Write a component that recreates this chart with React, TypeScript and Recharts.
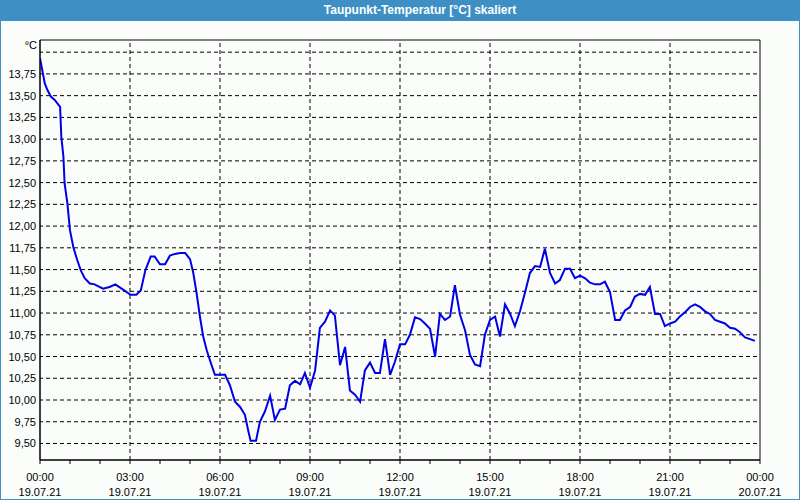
import React from "react";
import { LineChart, Line, XAxis, YAxis, ReferenceLine, ReferenceArea } from "recharts";

const hours = [
  0.0, 0.16, 0.24, 0.36, 0.49, 0.67, 0.71, 0.78, 0.82, 0.91, 1.0, 1.11, 1.24, 1.36, 1.49, 1.66, 1.82, 2.1, 2.32, 2.51,
  2.77, 3.02, 3.21, 3.36, 3.51, 3.69, 3.82, 4.0, 4.17, 4.33, 4.5, 4.67, 4.84, 5.0, 5.11, 5.22, 5.33, 5.44, 5.56, 5.72,
  5.83, 6.17, 6.33, 6.5, 6.67, 6.83, 6.94, 7.02, 7.2, 7.33, 7.5, 7.67, 7.83, 8.0, 8.17, 8.33, 8.5, 8.67, 8.83, 9.0,
  9.17, 9.33, 9.5, 9.67, 9.83, 10.0, 10.17, 10.33, 10.5, 10.67, 10.83, 11.0, 11.17, 11.33, 11.5, 11.67, 11.83, 12.0,
  12.17, 12.33, 12.5, 12.67, 12.83, 13.0, 13.17, 13.33, 13.5, 13.67, 13.83, 14.0, 14.17, 14.33, 14.5, 14.67, 14.83,
  15.0, 15.17, 15.33, 15.5, 15.67, 15.83, 16.0, 16.17, 16.33, 16.5, 16.67, 16.83, 17.0, 17.17, 17.33, 17.5, 17.67,
  17.83, 18.0, 18.17, 18.33, 18.5, 18.67, 18.83, 19.0, 19.17, 19.33, 19.5, 19.67, 19.83, 20.0, 20.17, 20.33, 20.5,
  20.67, 20.83, 21.0, 21.17, 21.33, 21.5, 21.67, 21.83, 22.0, 22.17, 22.33, 22.5, 22.67, 22.83, 23.0, 23.17, 23.33,
  23.5, 23.67, 23.83,
];

const dewPoint = [
  13.93, 13.64, 13.57, 13.49, 13.45, 13.37, 13.03, 12.8, 12.49, 12.27, 11.95, 11.76, 11.61, 11.49, 11.4, 11.34, 11.33,
  11.28, 11.3, 11.33, 11.27, 11.21, 11.21, 11.26, 11.49, 11.65, 11.65, 11.56, 11.56, 11.66, 11.68, 11.69, 11.69, 11.62,
  11.46, 11.23, 10.96, 10.73, 10.57, 10.4, 10.29, 10.29, 10.17, 9.98, 9.92, 9.83, 9.65, 9.53, 9.53, 9.75, 9.87, 10.05,
  9.77, 9.89, 9.9, 10.17, 10.22, 10.18, 10.31, 10.14, 10.34, 10.83, 10.9, 11.03, 10.97, 10.4, 10.61, 10.11, 10.06, 9.98,
  10.34, 10.43, 10.31, 10.31, 10.7, 10.29, 10.44, 10.64, 10.64, 10.75, 10.95, 10.93, 10.88, 10.82, 10.5, 10.99, 10.92,
  10.96, 11.32, 10.98, 10.8, 10.52, 10.41, 10.39, 10.75, 10.92, 10.96, 10.73, 11.1, 10.99, 10.85, 11.02, 11.24, 11.46,
  11.54, 11.53, 11.74, 11.46, 11.34, 11.38, 11.51, 11.51, 11.4, 11.43, 11.4, 11.35, 11.33, 11.33, 11.36, 11.24, 10.92,
  10.92, 11.03, 11.07, 11.19, 11.22, 11.21, 11.3, 10.99, 10.99, 10.85, 10.88, 10.9, 10.96, 11.01, 11.07, 11.1, 11.07,
  11.02, 10.99, 10.92, 10.9, 10.88, 10.83, 10.82, 10.78, 10.72, 10.7, 10.68,
];

const yTicks = [9.5, 9.75, 10.0, 10.25, 10.5, 10.75, 11.0, 11.25, 11.5, 11.75, 12.0, 12.25, 12.5, 12.75, 13.0, 13.25, 13.5, 13.75, 14.0];
const xTicks = [0, 1, 2, 3, 4, 5, 6, 7, 8, 9, 10, 11, 12, 13, 14, 15, 16, 17, 18, 19, 20, 21, 22, 23, 24];
const majorX = [0, 3, 6, 9, 12, 15, 18, 21, 24];
const timeLabels = ["00:00", "03:00", "06:00", "09:00", "12:00", "15:00", "18:00", "21:00", "00:00"];
const dateLabels = ["19.07.21", "19.07.21", "19.07.21", "19.07.21", "19.07.21", "19.07.21", "19.07.21", "19.07.21", "20.07.21"];

const Y_MIN = 9.31;
const Y_MAX = 14.14;

const data = hours.map((h, i) => ({ h, v: dewPoint[i] }));

const FONT = "'Liberation Sans', Arial, sans-serif";
const BLUE = "#3d8fc4";

const XTick = (props: any) => {
  const { x, y, payload } = props;
  const idx = majorX.indexOf(payload.value);
  if (idx < 0) return null;
  return (
    <g>
      <text x={x} y={y + 15} textAnchor="middle" fontSize={11} fontFamily={FONT} fill="#000">
        {timeLabels[idx]}
      </text>
      <text x={x} y={y + 30} textAnchor="middle" fontSize={11} fontFamily={FONT} fill="#000">
        {dateLabels[idx]}
      </text>
    </g>
  );
};

const YTick = (props: any) => {
  const { x, y, payload } = props;
  if (payload.value >= 14) return null;
  return (
    <text x={x} y={y + 4} textAnchor="end" fontSize={11} fontFamily={FONT} fill="#000">
      {payload.value.toFixed(2).replace(".", ",")}
    </text>
  );
};

export default function App() {
  return (
    <div
      style={{
        position: "absolute",
        left: 0,
        top: 0,
        width: 800,
        height: 500,
        background: "#fbfdfb",
        boxSizing: "border-box",
        overflow: "hidden",
      }}
    >
      <div style={{ position: "absolute", left: 0, top: 0 }}>
        <LineChart width={800} height={500} data={data} margin={{ top: 40, right: 40, bottom: 0, left: 0 }}>
          {yTicks.map((t) => (
            <ReferenceLine key={"y" + t} y={t} stroke="#000" strokeDasharray="4 3" strokeDashoffset={1} />
          ))}
          {majorX.slice(1, -1).map((t) => (
            <ReferenceLine key={"x" + t} x={t} stroke="#000" strokeDasharray="4 3" />
          ))}
          <ReferenceArea x1={0} x2={24} y1={Y_MIN} y2={Y_MAX} fill="none" fillOpacity={0} stroke="#000" strokeWidth={1} ifOverflow="visible" />
          <XAxis
            dataKey="h"
            type="number"
            domain={[0, 24]}
            ticks={xTicks}
            interval={0}
            height={40}
            tickSize={4}
            tickLine={{ stroke: "#000" }}
            axisLine={{ stroke: "#000" }}
            tick={<XTick />}
            allowDataOverflow
          />
          <YAxis
            type="number"
            domain={[Y_MIN, Y_MAX]}
            ticks={yTicks}
            interval={0}
            width={40}
            tickSize={0}
            tickMargin={4}
            tickLine={false}
            axisLine={{ stroke: "#000" }}
            tick={<YTick />}
            allowDataOverflow
          />
          <Line dataKey="v" type="linear" stroke="#0000e6" strokeWidth={2} dot={false} isAnimationActive={false} />
        </LineChart>
      </div>
      <div
        style={{
          position: "absolute",
          left: 0,
          top: 0,
          width: 800,
          height: 21,
          background: BLUE,
          color: "#fff",
          fontFamily: FONT,
          fontWeight: "bold",
          fontSize: 12,
          lineHeight: "21px",
          textAlign: "center",
          paddingLeft: 40,
          boxSizing: "border-box",
        }}
      >
        Taupunkt-Temperatur [°C] skaliert
      </div>
      <div
        style={{
          position: "absolute",
          left: 0,
          top: 39,
          width: 37,
          textAlign: "right",
          fontFamily: FONT,
          fontSize: 11,
          color: "#000",
        }}
      >
        °C
      </div>
      <div
        style={{
          position: "absolute",
          left: 0,
          top: 0,
          width: 800,
          height: 500,
          border: `1px solid ${BLUE}`,
          boxSizing: "border-box",
          pointerEvents: "none",
        }}
      />
    </div>
  );
}
